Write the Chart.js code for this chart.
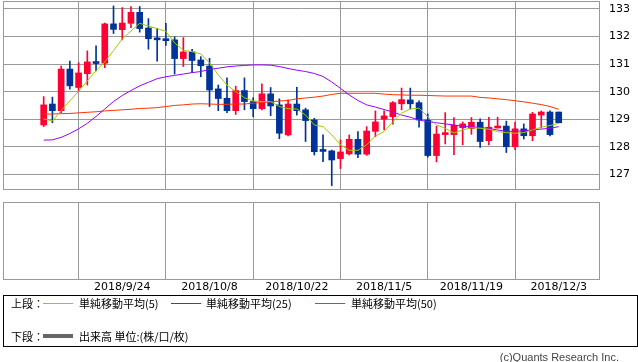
<!DOCTYPE html>
<html><head><meta charset="utf-8">
<script src="https://cdn.jsdelivr.net/npm/chart.js@4.4.1/dist/chart.umd.min.js"></script>
<style>
html,body{margin:0;padding:0;background:#fff;width:638px;height:362px;overflow:hidden;}
canvas{position:absolute;left:0;}
#c1{top:0;}
#c2{top:198px;}
.t{position:absolute;font-family:"Noto Sans CJK JP",sans-serif;font-size:11px;line-height:14px;color:#000;white-space:nowrap;}
.ln{position:absolute;height:1px;width:30px;}
#box{position:absolute;left:3px;top:295px;width:635px;height:52px;box-sizing:border-box;border:1px solid #000;}
#copy{position:absolute;right:19px;top:350px;font-family:"Liberation Sans",sans-serif;font-size:11px;line-height:14px;color:#444;}
</style></head>
<body>
<canvas id="c1" width="638" height="191"></canvas>
<canvas id="c2" width="638" height="102"></canvas>
<div id="box"></div>
<span class="t" style="left:11px;top:296px;">上段：</span>
<div class="ln" style="left:43px;top:303px;background:#99CC00;"></div>
<span class="t" style="left:79px;top:296px;">単純移動平均(5)</span>
<div class="ln" style="left:171px;top:303px;background:#9900FF;"></div>
<span class="t" style="left:206px;top:296px;">単純移動平均(25)</span>
<div class="ln" style="left:315px;top:303px;background:#FF3300;"></div>
<span class="t" style="left:351px;top:296px;">単純移動平均(50)</span>
<span class="t" style="left:11px;top:329px;">下段：</span>
<div class="ln" style="left:43px;top:334px;height:4px;background:#666;"></div>
<span class="t" style="left:79px;top:329px;">出来高 単位:(株/口/枚)</span>
<div id="copy">(c)Quants Research Inc.</div>
<script>
const dates = ["2018/9/11","2018/9/12","2018/9/13","2018/9/14","2018/9/17","2018/9/18","2018/9/19","2018/9/20","2018/9/21","2018/9/24",
"2018/9/25","2018/9/26","2018/9/27","2018/9/28","2018/10/1","2018/10/2","2018/10/3","2018/10/4","2018/10/5","2018/10/8",
"2018/10/9","2018/10/10","2018/10/11","2018/10/12","2018/10/15","2018/10/16","2018/10/17","2018/10/18","2018/10/19","2018/10/22",
"2018/10/23","2018/10/24","2018/10/25","2018/10/26","2018/10/29","2018/10/30","2018/10/31","2018/11/1","2018/11/2","2018/11/5",
"2018/11/6","2018/11/7","2018/11/8","2018/11/9","2018/11/12","2018/11/13","2018/11/14","2018/11/15","2018/11/16","2018/11/19",
"2018/11/20","2018/11/21","2018/11/22","2018/11/23","2018/11/26","2018/11/27","2018/11/28","2018/11/29","2018/11/30","2018/12/3"];

const open = [128.79,129.55,129.31,130.82,130.15,130.65,131.08,131.03,132.46,132.25,
132.48,132.88,132.31,131.95,131.91,131.88,131.20,131.44,131.15,130.93,
130.10,129.76,129.31,130.04,129.64,129.38,129.92,129.52,128.43,129.55,
129.34,128.97,127.85,127.85,127.57,127.74,128.27,127.73,128.56,129.00,
129.09,129.56,129.70,129.60,128.97,127.68,128.44,128.44,128.69,128.66,
128.89,128.22,128.68,128.75,128.00,128.65,128.40,129.15,129.26,129.26];

const high = [129.82,129.80,130.93,131.11,131.05,131.48,131.66,132.49,133.11,133.05,
133.09,133.09,132.65,132.30,132.48,131.99,131.96,131.54,131.27,131.21,
130.24,130.50,130.20,130.50,129.78,130.28,130.15,129.74,129.70,130.16,
129.40,129.03,128.43,127.88,128.25,128.43,128.55,128.73,129.30,129.30,
129.64,130.13,130.13,129.67,129.19,128.75,129.24,129.06,128.90,129.06,
129.01,129.07,129.07,128.93,128.89,128.83,129.25,129.30,129.30,129.26];

const low = [128.73,128.87,129.24,130.09,130.03,130.24,130.75,130.87,132.11,131.88,
132.32,132.16,131.54,131.11,131.68,130.64,130.91,130.69,130.54,129.46,
129.31,129.24,129.17,129.34,129.09,129.34,129.13,128.29,128.39,129.15,
128.19,127.70,127.46,126.59,127.21,127.70,127.60,127.69,128.36,128.61,
128.82,129.34,129.37,128.71,127.62,127.45,128.10,127.71,128.07,128.45,
127.98,128.07,128.68,127.79,127.89,128.28,128.22,128.68,128.39,128.87];

const close = [129.52,129.31,130.82,130.21,130.68,131.08,131.02,132.46,132.26,132.49,
132.88,132.29,131.92,131.88,131.85,131.20,131.44,131.13,130.94,130.06,
129.75,129.31,130.04,129.64,129.38,129.92,129.48,128.49,129.55,129.31,
128.95,127.82,127.83,127.52,127.81,128.27,127.73,128.57,128.90,129.12,
129.60,129.71,129.56,128.97,127.68,128.46,128.51,128.78,128.83,128.89,
128.19,128.71,128.75,128.00,128.65,128.40,129.19,129.26,128.44,128.87];

const ma5 = [129.01,128.94,129.31,129.67,130.01,130.39,130.76,131.08,131.49,131.91,
132.20,132.48,132.38,132.29,132.19,131.77,131.50,131.45,131.37,131.04,
130.61,130.24,130.00,129.78,129.66,129.64,129.64,129.46,129.38,129.37,
129.15,128.79,128.73,128.43,128.07,127.87,127.87,128.07,128.39,128.55,
128.91,129.22,129.37,129.40,129.09,128.79,128.67,128.50,128.61,128.69,
128.67,128.64,128.55,128.51,128.49,128.51,128.61,128.71,128.77,128.85];

const ma25 = [128.24,128.25,128.34,128.48,128.65,128.85,129.10,129.37,129.64,129.86,
130.04,130.21,130.34,130.47,130.54,130.59,130.64,130.69,130.73,130.81,
130.85,130.90,130.93,130.95,130.97,130.97,130.96,130.91,130.84,130.78,
130.73,130.66,130.55,130.35,130.12,129.88,129.68,129.52,129.44,129.35,
129.26,129.15,129.07,128.97,128.91,128.87,128.83,128.79,128.74,128.72,
128.70,128.66,128.61,128.56,128.56,128.58,128.61,128.64,128.67,128.73];

const ma50 = [129.18,129.19,129.20,129.21,129.23,129.25,129.27,129.30,129.32,129.34,
129.36,129.39,129.40,129.42,129.46,129.50,129.52,129.55,129.56,129.55,
129.54,129.54,129.55,129.55,129.58,129.61,129.63,129.66,129.68,129.74,
129.77,129.80,129.84,129.90,129.94,129.94,129.94,129.94,129.94,129.91,
129.89,129.88,129.87,129.87,129.86,129.85,129.84,129.84,129.84,129.84,
129.79,129.77,129.74,129.71,129.67,129.63,129.58,129.53,129.46,129.36];

const xTickLabels = ["2018/9/24","2018/10/8","2018/10/22","2018/11/5","2018/11/19","2018/12/3"];
const yTicks = [127,128,129,130,131,132,133];

const X_MIN = -4.66, X_MAX = 63.73;
const Y_MIN = 126.43, Y_MAX = 133.29;
const UP = '#FF0033', DOWN = '#003399', GRID = '#999999';
const xTickIdx = xTickLabels.map(l => dates.indexOf(l));
const colors = close.map((c, i) => c >= open[i] ? UP : DOWN);
const pts = arr => arr.map((v, i) => ({x: i, y: v}));

const frame = {
  id: 'frame',
  afterDraw(chart) {
    const {ctx, chartArea: a} = chart;
    ctx.save();
    ctx.strokeStyle = GRID; ctx.lineWidth = 1;
    ctx.strokeRect(Math.round(a.left) + 0.5, Math.round(a.top) + 0.5,
      Math.round(a.right - a.left) - 1, Math.round(a.bottom - a.top) - 1);
    ctx.restore();
  }
};

const common = {
  responsive: false, animation: false, devicePixelRatio: 1,
  plugins: {legend: {display: false}, tooltip: {enabled: false}}
};

new Chart(document.getElementById('c1'), {
  type: 'bar',
  data: {
    datasets: [
      {type: 'line', data: pts(ma5), borderColor: '#99CC00', borderWidth: 1, pointRadius: 0, tension: 0, order: 1},
      {type: 'line', data: pts(ma25), borderColor: '#9900FF', borderWidth: 1, pointRadius: 0, tension: 0, order: 1},
      {type: 'line', data: pts(ma50), borderColor: '#FF3300', borderWidth: 1, pointRadius: 0, tension: 0, order: 1},
      {type: 'bar', data: dates.map((d, i) => ({x: i, y: [open[i], close[i]]})), backgroundColor: colors,
        barThickness: 6, minBarLength: 2, grouped: false, borderWidth: 0, order: 2},
      {type: 'bar', data: dates.map((d, i) => ({x: i, y: [low[i], high[i]]})), backgroundColor: colors,
        barThickness: 1, grouped: false, borderWidth: 0, order: 3}
    ]
  },
  options: Object.assign({}, common, {
    layout: {padding: {left: 3, top: 1, right: 0, bottom: 1}, autoPadding: false},
    scales: {
      x: {type: 'linear', min: X_MIN, max: X_MAX, offset: false,
        afterBuildTicks: s => { s.ticks = xTickIdx.map(v => ({value: v})); },
        ticks: {display: false},
        grid: {color: GRID, drawTicks: false, tickLength: 0},
        border: {display: false},
        afterFit: s => { s.height = 0; s.paddingLeft = 0; s.paddingRight = 0; }
      },
      y: {position: 'right', min: Y_MIN, max: Y_MAX,
        afterBuildTicks: s => { s.ticks = yTicks.map(v => ({value: v})); },
        ticks: {font: {family: 'DejaVu Sans', size: 11}, color: '#000', padding: 9},
        grid: {color: GRID, drawTicks: false, tickLength: 0},
        border: {display: false},
        afterFit: s => { s.width = 38; s.paddingTop = 0; s.paddingBottom = 0; }
      }
    }
  }),
  plugins: [frame]
});

new Chart(document.getElementById('c2'), {
  type: 'bar',
  data: {datasets: []},
  options: Object.assign({}, common, {
    layout: {padding: {left: 3, top: 4, right: 0, bottom: 0}, autoPadding: false},
    scales: {
      x: {type: 'linear', min: X_MIN, max: X_MAX, offset: false,
        afterBuildTicks: s => { s.ticks = xTickIdx.map(v => ({value: v})); },
        ticks: {callback: v => dates[v], font: {family: 'DejaVu Sans', size: 11}, color: '#000',
          padding: 1, maxRotation: 0, autoSkip: false},
        grid: {color: GRID, drawTicks: false, tickLength: 0},
        border: {display: false},
        afterFit: s => { s.height = 20; s.paddingLeft = 0; s.paddingRight = 0; }
      },
      y: {position: 'right', min: 0, max: 1,
        ticks: {display: false}, grid: {display: false}, border: {display: false},
        afterFit: s => { s.width = 38; s.paddingTop = 0; s.paddingBottom = 0; }
      }
    }
  }),
  plugins: [frame]
});
</script>
</body></html>
